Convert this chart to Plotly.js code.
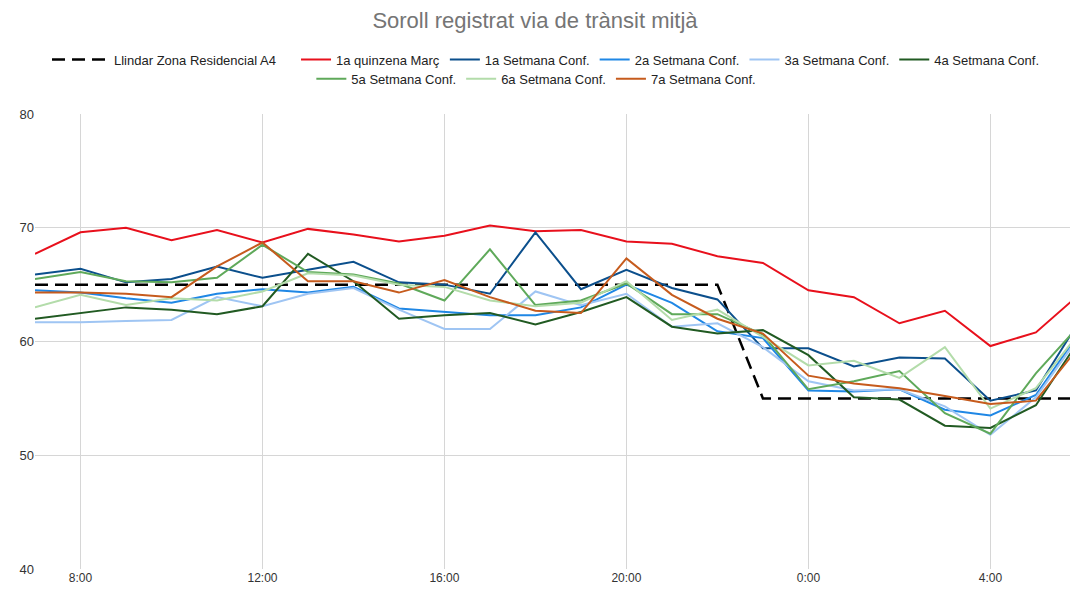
<!DOCTYPE html>
<html>
<head>
<meta charset="utf-8">
<script src="https://cdn.plot.ly/plotly-3.0.1.min.js"></script>
<style>html,body{margin:0;padding:0;background:#fff;}#chart{width:1070px;height:589px;}</style>
</head>
<body>
<div id="chart"></div>
<script>
const times = [
  '2020-03-16 07:00','2020-03-16 08:00','2020-03-16 09:00','2020-03-16 10:00','2020-03-16 11:00','2020-03-16 12:00',
  '2020-03-16 13:00','2020-03-16 14:00','2020-03-16 15:00','2020-03-16 16:00','2020-03-16 17:00','2020-03-16 18:00',
  '2020-03-16 19:00','2020-03-16 20:00','2020-03-16 21:00','2020-03-16 22:00','2020-03-16 23:00','2020-03-17 00:00',
  '2020-03-17 01:00','2020-03-17 02:00','2020-03-17 03:00','2020-03-17 04:00','2020-03-17 05:00','2020-03-17 06:00'
];
const seriesNames = ['Llindar Zona Residencial A4','1a quinzena Març','1a Setmana Conf.','2a Setmana Conf.','3a Setmana Conf.','4a Setmana Conf.','5a Setmana Conf.','6a Setmana Conf.','7a Setmana Conf.'];
const llindar   = [65,65,65,65,65,65,65,65,65,65,65,65,65,65,65,65,55,55,55,55,55,55,55,55];
const quinzena  = [67.7,69.6,70.0,68.9,69.8,68.7,69.9,69.4,68.8,69.3,70.2,69.7,69.8,68.8,68.6,67.5,66.9,64.5,63.9,61.6,62.7,59.6,60.8,64.3];
const setmana1  = [65.9,66.4,65.2,65.5,66.6,65.6,66.3,67.0,65.2,65.0,64.2,69.6,64.6,66.3,64.7,63.7,59.4,59.4,57.8,58.6,58.5,54.8,55.7,62.1];
const setmana2  = [64.5,64.3,63.8,63.4,64.2,64.6,64.3,64.8,62.9,62.6,62.3,62.3,63.0,65.0,63.4,60.9,60.3,55.7,55.6,55.8,54.0,53.5,55.3,61.0];
const setmana3  = [61.7,61.7,61.8,61.9,63.9,63.1,64.2,64.7,62.8,61.1,61.1,64.4,63.2,64.2,61.3,61.6,59.5,56.5,55.7,55.8,54.3,51.8,55.1,60.7];
const setmana4  = [62.0,62.5,63.0,62.8,62.4,63.1,67.7,65.3,62.0,62.3,62.5,61.5,62.6,63.9,61.3,60.7,61.0,58.8,55.1,54.9,52.6,52.4,54.4,60.4];
const setmana5  = [65.5,66.1,65.3,65.2,65.6,68.5,66.1,65.9,65.1,63.6,68.1,63.2,63.6,65.1,62.4,62.4,60.6,55.8,56.5,57.4,53.7,51.9,57.2,61.6];
const setmana6  = [63.0,64.1,63.2,63.8,63.6,64.4,66.0,65.8,65.0,64.8,63.6,63.1,63.4,65.3,61.9,62.8,60.4,57.9,58.3,56.8,59.5,54.1,55.9,61.0];
const setmana7  = [64.3,64.3,64.2,63.9,66.6,68.7,65.3,65.3,64.3,65.4,63.9,62.7,62.5,67.3,64.1,62.0,60.7,57.0,56.3,55.9,55.2,54.5,54.8,59.8];
const colors = ['#000000','#e8101c','#0b4f8c','#1f87e5','#9fc5f3','#215a22','#5fa95a','#b3dcaa','#c65b1d'];
const legendOf = ['legend3','legend','legend','legend','legend','legend','legend2','legend2','legend2'];

const values = [llindar, quinzena, setmana1, setmana2, setmana3, setmana4, setmana5, setmana6, setmana7];
const traces = values.map((v, i) => ({
  type: 'scatter',
  mode: 'lines',
  name: seriesNames[i],
  x: times,
  y: v,
  legend: legendOf[i],
  line: {color: colors[i], width: i === 0 ? 2.5 : 2, dash: i === 0 ? '13px,7px' : 'solid'},
  hoverinfo: 'x+y+name'
}));

const legendFont = {family: '"Liberation Sans", Arial, sans-serif', size: 13, color: '#222222'};
const layout = {
  width: 1070, height: 589,
  margin: {l: 35, r: 0, t: 114, b: 20},
  paper_bgcolor: '#ffffff', plot_bgcolor: '#ffffff',
  font: {family: '"Liberation Sans", Arial, sans-serif', size: 12, color: '#222222'},
  title: {text: 'Soroll registrat via de trànsit mitjà', x: 0.5, xanchor: 'center', y: 0.965, yanchor: 'middle',
          font: {family: '"Liberation Sans", Arial, sans-serif', size: 22, color: '#757575'}},
  showlegend: true,
  legend3: {orientation: 'h', x: 0.0116, xanchor: 'left', y: 1.1524, yanchor: 'top',
           font: legendFont, itemwidth: 57, traceorder: 'normal', bgcolor: 'rgba(0,0,0,0)'},
  legend: {orientation: 'h', x: 0.2522, xanchor: 'left', y: 1.1524, yanchor: 'top',
           font: legendFont, itemwidth: 30, traceorder: 'normal', bgcolor: 'rgba(0,0,0,0)'},
  legend2: {orientation: 'h', x: 0.267, xanchor: 'left', y: 1.1104, yanchor: 'top',
           font: legendFont, itemwidth: 30, traceorder: 'normal', bgcolor: 'rgba(0,0,0,0)'},
  xaxis: {
    type: 'date',
    range: ['2020-03-16 07:00', '2020-03-17 05:45'],
    tick0: '2020-03-16 08:00', dtick: 4 * 3600 * 1000,
    tickformat: '%-H:%M',
    showgrid: true, gridcolor: '#d6d6d6', gridwidth: 1,
    zeroline: false, showline: false, ticks: '',
    tickfont: {size: 12, color: '#333333'},
    automargin: false
  },
  yaxis: {
    range: [40, 80], dtick: 10, tick0: 40,
    showgrid: true, gridcolor: '#d6d6d6', gridwidth: 1,
    zeroline: false, showline: false, ticks: '',
    tickfont: {size: 13, color: '#333333'},
    automargin: false
  }
};

Plotly.newPlot('chart', traces, layout, {displayModeBar: false, staticPlot: true});
</script>
</body>
</html>
